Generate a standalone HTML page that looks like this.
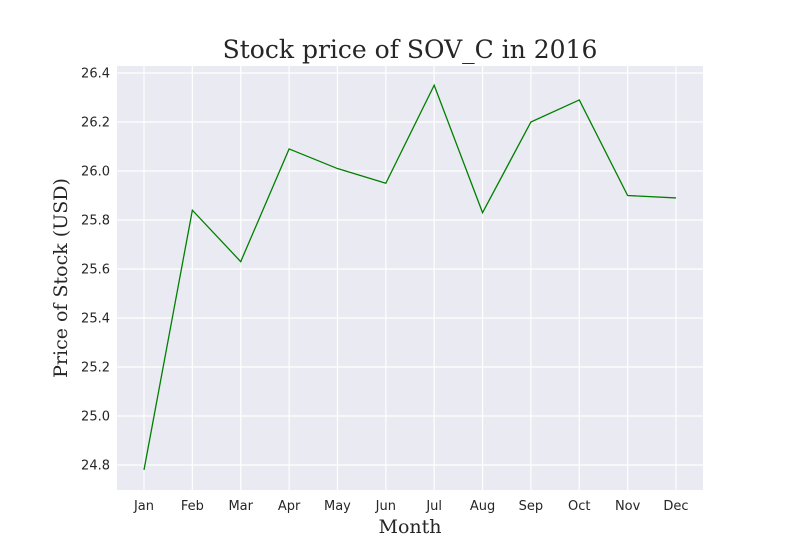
<!DOCTYPE html>
<html><head><meta charset="utf-8"><style>
body{margin:0;background:#fff;}
svg{display:block;}
</style></head><body>
<svg id="chart" width="800" height="550" xmlns="http://www.w3.org/2000/svg">
<rect x="0" y="0" width="800" height="550" fill="#fff"/>
<rect x="117" y="66" width="586" height="424" fill="#eaeaf2"/>
<g id="grid"></g>
<g id="ticks"></g>
<g id="series"></g>
<text x="410" y="58" text-anchor="middle" font-family="'DejaVu Serif',serif" font-size="25" fill="#262626">Stock price of SOV_C in 2016</text>
<text x="410" y="533" text-anchor="middle" font-family="'DejaVu Serif',serif" font-size="19" fill="#262626">Month</text>
<text transform="translate(67,278) rotate(-90)" text-anchor="middle" font-family="'DejaVu Serif',serif" font-size="19" fill="#262626">Price of Stock (USD)</text>
</svg>
<script>
const months = ["Jan","Feb","Mar","Apr","May","Jun","Jul","Aug","Sep","Oct","Nov","Dec"];
const prices = [24.78,25.84,25.63,26.09,26.01,25.95,26.35,25.83,26.20,26.29,25.90,25.89];
const yTicks = [24.8,25.0,25.2,25.4,25.6,25.8,26.0,26.2,26.4];
const NS="http://www.w3.org/2000/svg";
function xScale(i){return 144+i*(676-144)/(months.length-1);}
function yScale(v){return 465+(v-24.8)*(73-465)/(26.4-24.8);}
function mk(tag,attrs,parent){const e=document.createElementNS(NS,tag);for(const k in attrs)e.setAttribute(k,attrs[k]);document.getElementById(parent).appendChild(e);return e;}
months.forEach((m,i)=>{
  const x=xScale(i);
  const g=mk("line",{x1:x,x2:x,y1:66,y2:490,stroke:"#fff","stroke-width":1.2},"grid");
  
  
  const t=mk("text",{x:x,y:510,"text-anchor":"middle","font-family":"'DejaVu Sans','Liberation Sans',sans-serif","font-size":13,fill:"#262626"},"ticks");
  t.textContent=m;
  
  
});
yTicks.forEach(v=>{
  const y=yScale(v);
  const g=mk("line",{x1:117,x2:703,y1:y,y2:y,stroke:"#fff","stroke-width":1.2},"grid");
  
  
  const t=mk("text",{x:110,y:y+4.5,"text-anchor":"end","font-family":"'DejaVu Sans','Liberation Sans',sans-serif","font-size":13,fill:"#262626"},"ticks");
  t.textContent=v.toFixed(1);
  
  
});
const pts=prices.map((p,i)=>xScale(i)+","+yScale(p)).join(" ");
const l=mk("polyline",{points:pts,fill:"none",stroke:"#008000","stroke-width":1.3},"series");


</script>
</body></html>
